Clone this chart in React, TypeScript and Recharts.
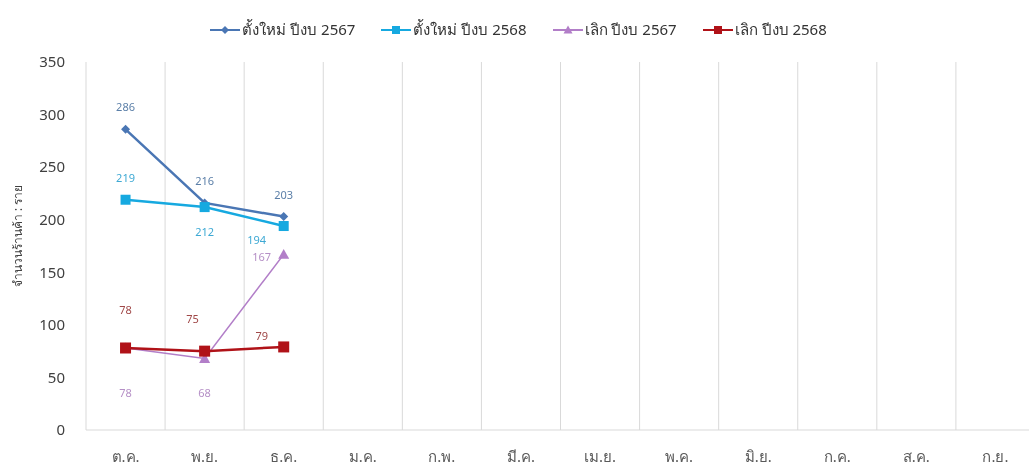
import { LineChart, Line, XAxis, YAxis, CartesianGrid, Legend, LabelList } from "recharts";

const months = ["ต.ค.", "พ.ย.", "ธ.ค.", "ม.ค.", "ก.พ.", "มี.ค.", "เม.ย.", "พ.ค.", "มิ.ย.", "ก.ค.", "ส.ค.", "ก.ย."];
const newShops2567 = [286, 216, 203];
const newShops2568 = [219, 212, 194];
const closedShops2567 = [78, 68, 167];
const closedShops2568 = [78, 75, 79];
const yTicks = [0, 50, 100, 150, 200, 250, 300, 350];

const seriesNames = ["ตั้งใหม่ ปีงบ 2567", "ตั้งใหม่ ปีงบ 2568", "เลิก ปีงบ 2567", "เลิก ปีงบ 2568"];

const data = months.map((month, i) => ({
  month,
  new67: newShops2567[i] ?? null,
  new68: newShops2568[i] ?? null,
  closed67: closedShops2567[i] ?? null,
  closed68: closedShops2568[i] ?? null,
}));

const FONT = "'Noto Sans', 'DejaVu Sans', sans-serif";

// label nudges, copied by eye from the reference (Excel placed them by hand)
const labelNudge: Record<string, number[][]> = {
  new67: [[0, -23], [0, -22], [0, -22]],
  new68: [[0, -22], [0, 24], [-27, 13]],
  closed67: [[0, 45], [0, 34], [-22, 2]],
  closed68: [[0, -38], [-12, -33], [-22, -11]],
};

const colors = {
  new67: "#4a76b4",
  new68: "#16a9e0",
  closed67: "#b27ec8",
  closed68: "#b01218",
};

const labelColors = {
  new67: "#5b7fa8",
  new68: "#3ea9d4",
  closed67: "#b58fc6",
  closed68: "#a04848",
};

type Shape = "diamond" | "square" | "triangle";

function marker(shape: Shape, cx: number, cy: number, fill: string, size: number) {
  const r = size / 2;
  if (shape === "diamond")
    return <path d={`M${cx},${cy - r}L${cx + r},${cy}L${cx},${cy + r}L${cx - r},${cy}Z`} fill={fill} />;
  if (shape === "triangle")
    return <path d={`M${cx},${cy - r}L${cx + r},${cy + r * 0.8}L${cx - r},${cy + r * 0.8}Z`} fill={fill} />;
  return <rect x={cx - r} y={cy - r} width={size} height={size} fill={fill} />;
}

const makeDot = (shape: Shape, fill: string, size: number) => (props: any) => {
  const { cx, cy, index } = props;
  if (cx == null || cy == null || props.value == null) return <g key={`d${index}`} />;
  return <g key={`d${index}`}>{marker(shape, cx, cy, fill, size)}</g>;
};

const makeLabel = (key: keyof typeof colors) => (props: any) => {
  const { x, y, value, index } = props;
  if (value == null || x == null) return null;
  const [dx, dy] = labelNudge[key][index] ?? [0, -20];
  return (
    <text x={x + dx} y={y + dy} textAnchor="middle" dominantBaseline="central" fontSize={11} fontFamily={FONT} fill={labelColors[key]}>
      {value}
    </text>
  );
};

const legendItems: { key: keyof typeof colors; shape: Shape; size: number }[] = [
  { key: "new67", shape: "diamond", size: 8 },
  { key: "new68", shape: "square", size: 8 },
  { key: "closed67", shape: "triangle", size: 9 },
  { key: "closed68", shape: "square", size: 8 },
];

function LegendContent() {
  return (
    <div style={{ display: "flex", justifyContent: "center", gap: 26, fontFamily: FONT, fontSize: 15, color: "#333" }}>
      {legendItems.map((it, i) => (
        <div key={it.key} style={{ display: "flex", alignItems: "center" }}>
          <svg width={30} height={14} style={{ marginRight: 2 }}>
            <line x1={0} y1={7} x2={30} y2={7} stroke={colors[it.key]} strokeWidth={2} />
            {marker(it.shape, 15, 7, colors[it.key], it.size)}
          </svg>
          <span>{seriesNames[i]}</span>
        </div>
      ))}
    </div>
  );
}

export default function App() {
  return (
    <div style={{ position: "fixed", top: 8, left: 8, width: 1021, height: 458, overflow: "hidden" }}>
      <LineChart width={1030} height={458} data={data} margin={{ top: 30, right: 3, bottom: 0, left: 0 }}>
        <CartesianGrid
          horizontal={false}
          stroke="#d9d9d9"
          verticalCoordinatesGenerator={({ offset }: any) => {
            const step = offset.width / months.length;
            return Array.from({ length: months.length + 1 }, (_, i) => offset.left + i * step);
          }}
        />
        <XAxis
          dataKey="month"
          scale="band"
          tickLine={false}
          axisLine={{ stroke: "#d9d9d9" }}
          height={36}
          tickMargin={15}
          tick={{ fontSize: 15, fill: "#595959", fontFamily: FONT }}
          interval={0}
        />
        <YAxis
          width={78}
          domain={[0, 350]}
          ticks={yTicks}
          tickLine={false}
          axisLine={false}
          tickMargin={15}
          tick={{ fontSize: 15, fill: "#404040", fontFamily: FONT }}
          label={{
            value: "จำนวนร้านค้า : ราย",
            angle: -90,
            position: "insideLeft",
            offset: 10,
            dy: -10,
            style: { fontSize: 12, fill: "#404040", fontFamily: FONT, textAnchor: "middle" },
          }}
        />
        <Legend verticalAlign="top" content={<LegendContent />} wrapperStyle={{ top: 10, left: 0, width: 1021 }} />
        <Line dataKey="new67" name={seriesNames[0]} stroke={colors.new67} strokeWidth={2.5} dot={makeDot("diamond", colors.new67, 9)} activeDot={false} isAnimationActive={false}>
          <LabelList dataKey="new67" content={makeLabel("new67")} />
        </Line>
        <Line dataKey="new68" name={seriesNames[1]} stroke={colors.new68} strokeWidth={2.5} dot={makeDot("square", colors.new68, 10)} activeDot={false} isAnimationActive={false}>
          <LabelList dataKey="new68" content={makeLabel("new68")} />
        </Line>
        <Line dataKey="closed67" name={seriesNames[2]} stroke={colors.closed67} strokeWidth={1.5} dot={makeDot("triangle", colors.closed67, 11)} activeDot={false} isAnimationActive={false}>
          <LabelList dataKey="closed67" content={makeLabel("closed67")} />
        </Line>
        <Line dataKey="closed68" name={seriesNames[3]} stroke={colors.closed68} strokeWidth={2.5} dot={makeDot("square", colors.closed68, 11)} activeDot={false} isAnimationActive={false}>
          <LabelList dataKey="closed68" content={makeLabel("closed68")} />
        </Line>
      </LineChart>
    </div>
  );
}
